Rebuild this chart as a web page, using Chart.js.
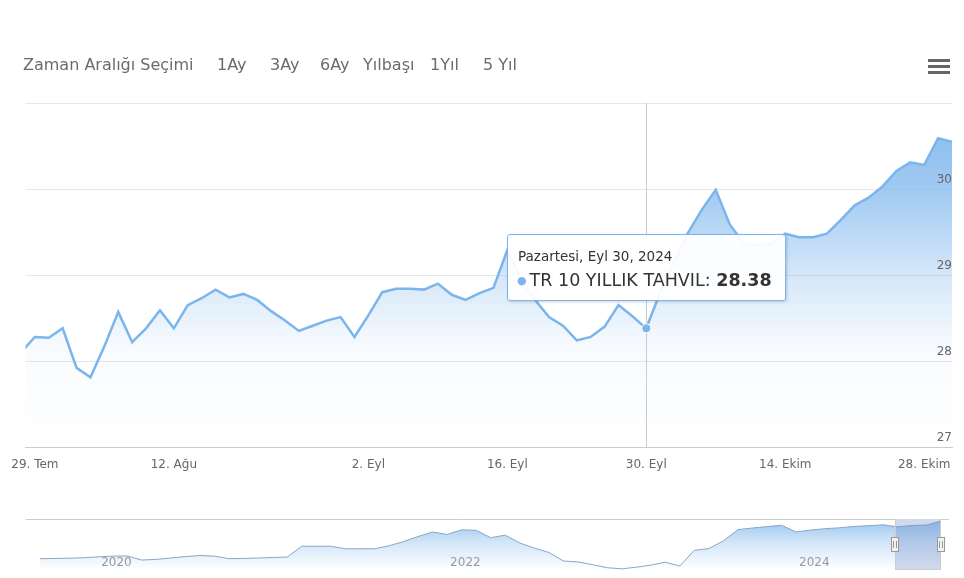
<!DOCTYPE html>
<html lang="tr">
<head>
<meta charset="utf-8">
<title>TR 10 Yıllık Tahvil</title>
<script src="https://cdn.jsdelivr.net/npm/chart.js@4.4.1/dist/chart.umd.min.js"></script>
<style>
  html, body { margin: 0; padding: 0; background: #fff; }
  #wrap { position: relative; width: 964px; height: 578px; overflow: hidden; background: #fff;
          font-family: "DejaVu Sans", sans-serif; }
  #main { position: absolute; left: 0; top: 0; }
  #nav { position: absolute; left: 0; top: 505px; }
  .rs { position: absolute; top: 55px; font-size: 16px; line-height: 20px; color: #6b6b6b; white-space: nowrap; }
  #menu { position: absolute; left: 928px; top: 59px; width: 22px; }
  #menu span { display: block; height: 3px; background: #666; margin-bottom: 3px; }
  #tip { position: absolute; display: none; box-sizing: border-box; width: 279px; height: 67px;
         background: rgba(255,255,255,0.93); border: 1px solid #7cb5ec; border-radius: 3px;
         box-shadow: 1px 1px 3px rgba(0,0,0,0.18); color: #333; white-space: nowrap; }
  #tip .t-head { position: absolute; left: 10px; top: 13px; font-size: 13.5px; line-height: 17px; }
  #tip .t-body { position: absolute; left: 9px; top: 34px; font-size: 17.5px; line-height: 23px; }
  #tip .t-dot { color: #7cb5ec; font-size: 11px; vertical-align: 2px; margin-right: 3px; }
  #tip .t-val { font-weight: bold; }
</style>
</head>
<body>
<div id="wrap">
  <canvas id="main" width="964" height="480"></canvas>
  <canvas id="nav" width="964" height="73"></canvas>

  <div class="rs" style="left:23px">Zaman Aralığı Seçimi</div>
  <div class="rs" style="left:217px">1Ay</div>
  <div class="rs" style="left:270px">3Ay</div>
  <div class="rs" style="left:320px">6Ay</div>
  <div class="rs" style="left:363px">Yılbaşı</div>
  <div class="rs" style="left:430px">1Yıl</div>
  <div class="rs" style="left:483px">5 Yıl</div>
  <div id="menu"><span></span><span></span><span></span></div>

  <div id="tip">
    <div class="t-head"></div>
    <div class="t-body"><span class="t-dot">●</span><span class="t-name"></span><span class="t-val"></span></div>
  </div>
</div>

<script>
// ---- daily closes, last three months ----
const dates = [
  '2024-07-26','2024-07-29','2024-07-30','2024-07-31','2024-08-01','2024-08-02','2024-08-05','2024-08-06',
  '2024-08-07','2024-08-08','2024-08-09','2024-08-12','2024-08-13','2024-08-14','2024-08-15','2024-08-16',
  '2024-08-19','2024-08-20','2024-08-21','2024-08-22','2024-08-23','2024-08-26','2024-08-27','2024-08-28',
  '2024-08-29','2024-09-02','2024-09-03','2024-09-04','2024-09-05','2024-09-06','2024-09-09','2024-09-10',
  '2024-09-11','2024-09-12','2024-09-13','2024-09-16','2024-09-17','2024-09-18','2024-09-19','2024-09-20',
  '2024-09-23','2024-09-24','2024-09-25','2024-09-26','2024-09-27','2024-09-30','2024-10-01','2024-10-02',
  '2024-10-03','2024-10-04','2024-10-07','2024-10-08','2024-10-09','2024-10-10','2024-10-11','2024-10-14',
  '2024-10-15','2024-10-16','2024-10-17','2024-10-18','2024-10-21','2024-10-22','2024-10-23','2024-10-24',
  '2024-10-25','2024-10-28','2024-10-30','2024-10-31'
];
const yields = [
  28.10, 28.28, 28.27, 28.38, 27.92, 27.81, 28.17, 28.57,
  28.22, 28.38, 28.59, 28.38, 28.65, 28.73, 28.83, 28.74,
  28.78, 28.71, 28.58, 28.47, 28.35, 28.41, 28.47, 28.51,
  28.28, 28.53, 28.80, 28.84, 28.84, 28.83, 28.90, 28.77,
  28.71, 28.79, 28.85, 29.29, 28.94, 28.71, 28.51, 28.41,
  28.24, 28.28, 28.40, 28.65, 28.52, 28.38, 28.80, 29.15,
  29.49, 29.76, 29.99, 29.59, 29.37, 29.35, 29.37, 29.48,
  29.44, 29.44, 29.48, 29.64, 29.81, 29.90, 30.03, 30.21,
  30.31, 30.28, 30.59, 30.55
];
const tickDates = ['2024-07-29','2024-08-12','2024-09-02','2024-09-16','2024-09-30','2024-10-14','2024-10-28'];
const yTicks = [27, 28, 29, 30, 31];
const yRange = [27, 31];
const seriesName = 'TR 10 YILLIK TAHVIL';
const hoverDate = '2024-09-30';

// ---- monthly closes for the navigator, five years ----
const navDates = [
  '2019-09-01','2019-10-01','2019-11-01','2019-12-01',
  '2020-01-01','2020-02-01','2020-03-01','2020-04-01','2020-05-01','2020-06-01',
  '2020-07-01','2020-08-01','2020-09-01','2020-10-01','2020-11-01','2020-12-01',
  '2021-01-01','2021-02-01','2021-03-01','2021-04-01','2021-05-01','2021-06-01',
  '2021-07-01','2021-08-01','2021-09-01','2021-10-01','2021-11-01','2021-12-01',
  '2022-01-01','2022-02-01','2022-03-01','2022-04-01','2022-05-01','2022-06-01',
  '2022-07-01','2022-08-01','2022-09-01','2022-10-01','2022-11-01','2022-12-01',
  '2023-01-01','2023-02-01','2023-03-01','2023-04-01','2023-05-01','2023-06-01',
  '2023-07-01','2023-08-01','2023-09-01','2023-10-01','2023-11-01','2023-12-01',
  '2024-01-01','2024-02-01','2024-03-01','2024-04-01','2024-05-01','2024-06-01',
  '2024-07-01','2024-08-01','2024-09-01','2024-10-01','2024-10-31'
];
const navYields = [
  14.2, 14.3, 14.4, 14.6,
  15.0, 15.3, 15.4, 13.6, 13.9, 14.5,
  15.1, 15.6, 15.3, 14.2, 14.3, 14.5,
  14.7, 14.9, 19.6, 19.6, 19.6, 18.5,
  18.5, 18.5, 19.8, 21.6, 23.8, 25.8,
  24.7, 26.7, 26.5, 23.3, 24.4, 21.0,
  18.8, 16.9, 13.2, 12.8, 11.6, 10.3,
  9.8, 10.5, 11.4, 12.7, 11.0, 17.8,
  18.6, 21.9, 26.8, 27.5, 28.1, 28.7,
  25.8, 26.6, 27.2, 27.6, 28.2, 28.5,
  28.9, 28.0, 28.6, 28.8, 30.5
];
const navYearTicks = ['2020-01-01', '2022-01-01', '2024-01-01'];
const navRange = [9.3, 31.4];

// ---- Turkish date names ----
const trMonths = ['Oca','Şub','Mar','Nis','May','Haz','Tem','Ağu','Eyl','Ekim','Kas','Ara'];
const trDays = ['Pazar','Pazartesi','Salı','Çarşamba','Perşembe','Cuma','Cumartesi'];

function parseDay(iso) {
  const [y, m, d] = iso.split('-').map(Number);
  return { y, m, d, wd: new Date(Date.UTC(y, m - 1, d)).getUTCDay() };
}
function tickLabel(iso) {
  const p = parseDay(iso);
  return p.d + '. ' + trMonths[p.m - 1];
}
function tooltipHeader(iso) {
  const p = parseDay(iso);
  return trDays[p.wd] + ', ' + trMonths[p.m - 1] + ' ' + p.d + ', ' + p.y;
}
// months elapsed since the first navigator date (fractional within a month)
const navOrigin = parseDay(navDates[0]);
function monthPos(iso) {
  const p = parseDay(iso);
  const dim = new Date(Date.UTC(p.y, p.m, 0)).getUTCDate();
  return (p.y - navOrigin.y) * 12 + (p.m - navOrigin.m) + (p.d - 1) / dim;
}

Chart.defaults.font.family = '"DejaVu Sans", sans-serif';
const seriesColor = '#7cb5ec';

function areaFill(context, stops) {
  const { ctx, chartArea } = context.chart;
  if (!chartArea) return 'rgba(124,181,236,0.3)';
  const g = ctx.createLinearGradient(0, chartArea.top, 0, chartArea.bottom);
  stops.forEach(([o, a]) => g.addColorStop(o, 'rgba(124,181,236,' + a + ')'));
  return g;
}

// vertical crosshair through the hovered point
const crosshair = {
  id: 'crosshair',
  beforeDatasetsDraw(chart) {
    const act = chart.getActiveElements();
    if (!act.length) return;
    const x = Math.round(act[0].element.x) + 0.5;
    const { ctx, chartArea: a } = chart;
    ctx.save();
    ctx.strokeStyle = '#cccccc';
    ctx.lineWidth = 1;
    ctx.beginPath();
    ctx.moveTo(x, a.top);
    ctx.lineTo(x, a.bottom);
    ctx.stroke();
    ctx.restore();
  }
};

function renderTooltip({ chart, tooltip }) {
  const el = document.getElementById('tip');
  if (!tooltip.dataPoints || !tooltip.dataPoints.length) { el.style.display = 'none'; return; }
  const dp = tooltip.dataPoints[0];
  el.querySelector('.t-head').textContent = tooltipHeader(dates[dp.dataIndex]);
  el.querySelector('.t-name').textContent = dp.dataset.label + ': ';
  el.querySelector('.t-val').textContent = dp.parsed.y.toFixed(2);
  el.style.display = 'block';
  el.style.left = Math.round(chart.canvas.offsetLeft + tooltip.caretX - el.offsetWidth / 2) + 'px';
  el.style.top = Math.round(chart.canvas.offsetTop + tooltip.caretY - el.offsetHeight - 27) + 'px';
}

const mainChart = new Chart(document.getElementById('main'), {
  type: 'line',
  data: {
    datasets: [{
      label: seriesName,
      data: yields.map((v, i) => ({ x: i, y: v })),
      borderColor: seriesColor,
      borderWidth: 2.5,
      tension: 0,
      pointRadius: 0,
      pointHoverRadius: 4.5,
      pointHoverBackgroundColor: seriesColor,
      pointHoverBorderColor: '#ffffff',
      pointHoverBorderWidth: 1,
      fill: 'start',
      backgroundColor: ctx => areaFill(ctx, [[0, 0.95], [0.25, 0.72], [0.5, 0.32], [0.72, 0.05], [1, 0]])
    }]
  },
  options: {
    responsive: false,
    animation: false,
    events: [],
    layout: { padding: { left: 24, right: 12, top: 103, bottom: 0 } },
    plugins: {
      legend: { display: false },
      tooltip: { enabled: false, animation: false, mode: 'index', intersect: false, external: renderTooltip }
    },
    scales: {
      x: {
        type: 'linear',
        min: 0.32,
        max: dates.length - 1,
        grid: { display: false, drawTicks: false },
        border: { display: true, color: '#cccccc' },
        afterBuildTicks: s => { s.ticks = tickDates.map(d => ({ value: dates.indexOf(d) })); },
        afterFit: s => { s.height = 33; },
        ticks: {
          autoSkip: false, maxRotation: 0, padding: 11, color: '#666',
          font: { size: 12 },
          callback: v => tickLabel(dates[v])
        }
      },
      y: {
        position: 'right',
        min: yRange[0],
        max: yRange[1],
        grid: { color: '#e6e6e6', drawTicks: false },
        border: { display: false },
        afterBuildTicks: s => { s.ticks = yTicks.map(v => ({ value: v })); },
        afterFit: s => { s.width = 0; },
        ticks: {
          mirror: true, padding: 0, labelOffset: -9, color: '#666', z: 1,
          font: { size: 12 },
          callback: v => (v === yRange[1] ? '' : String(v))
        }
      }
    }
  },
  plugins: [crosshair]
});

const hoverIndex = dates.indexOf(hoverDate);
const activeEls = [{ datasetIndex: 0, index: hoverIndex }];
mainChart.setActiveElements(activeEls);
const hp = mainChart.getDatasetMeta(0).data[hoverIndex];
mainChart.tooltip.setActiveElements(activeEls, { x: hp.x, y: hp.y });
mainChart.update();

// ---- navigator ----
const selStart = monthPos(dates[0]);
const selEnd = monthPos(dates[dates.length - 1]);

const navigatorFrame = {
  id: 'navigatorFrame',
  afterDatasetsDraw(chart) {
    const { ctx, chartArea: a, scales: { x } } = chart;
    const x0 = Math.round(x.getPixelForValue(selStart));
    const x1 = Math.round(x.getPixelForValue(selEnd));
    ctx.save();
    ctx.fillStyle = 'rgba(102,133,194,0.3)';
    ctx.fillRect(x0, a.top, x1 - x0, a.bottom - a.top);
    ctx.strokeStyle = '#cccccc';
    ctx.lineWidth = 1;
    ctx.beginPath();
    ctx.moveTo(a.left - 14, a.top + 0.5);
    ctx.lineTo(x0 + 0.5, a.top + 0.5);
    ctx.lineTo(x0 + 0.5, a.bottom - 0.5);
    ctx.lineTo(x1 - 0.5, a.bottom - 0.5);
    ctx.lineTo(x1 - 0.5, a.top + 0.5);
    ctx.lineTo(a.right + 8, a.top + 0.5);
    ctx.stroke();
    const mid = Math.round((a.top + a.bottom) / 2);
    [x0, x1].forEach(hx => {
      ctx.fillStyle = '#f2f2f2';
      ctx.strokeStyle = '#999999';
      ctx.fillRect(hx - 4, mid - 8, 8, 15);
      ctx.strokeRect(hx - 3.5, mid - 7.5, 7, 14);
      ctx.beginPath();
      ctx.moveTo(hx - 1.5, mid - 4); ctx.lineTo(hx - 1.5, mid + 3);
      ctx.moveTo(hx + 1.5, mid - 4); ctx.lineTo(hx + 1.5, mid + 3);
      ctx.stroke();
    });
    ctx.restore();
  }
};

new Chart(document.getElementById('nav'), {
  type: 'line',
  data: {
    datasets: [{
      data: navYields.map((v, i) => ({ x: monthPos(navDates[i]), y: v })),
      borderColor: '#8aa6c4',
      borderWidth: 1,
      tension: 0,
      pointRadius: 0,
      fill: 'start',
      backgroundColor: ctx => areaFill(ctx, [[0, 0.8], [0.45, 0.35], [1, 0]])
    }]
  },
  options: {
    responsive: false,
    animation: false,
    events: [],
    layout: { padding: { left: 40, right: 23, top: 14, bottom: 8 } },
    plugins: { legend: { display: false }, tooltip: { enabled: false } },
    scales: {
      x: {
        type: 'linear', min: 0, max: monthPos(navDates[navDates.length - 1]),
        grid: { display: false, drawTicks: false },
        border: { display: false },
        afterBuildTicks: s => { s.ticks = navYearTicks.map(d => ({ value: monthPos(d) })); },
        afterFit: s => { s.height = 0; },
        ticks: {
          autoSkip: false, maxRotation: 0, align: 'start', labelOffset: 3, padding: 0, mirror: true, z: 1,
          color: '#999', font: { size: 12 },
          callback: (v, i) => navYearTicks[i].slice(0, 4)
        }
      },
      y: {
        display: false, min: navRange[0], max: navRange[1]
      }
    }
  },
  plugins: [navigatorFrame]
});
</script>
</body>
</html>
